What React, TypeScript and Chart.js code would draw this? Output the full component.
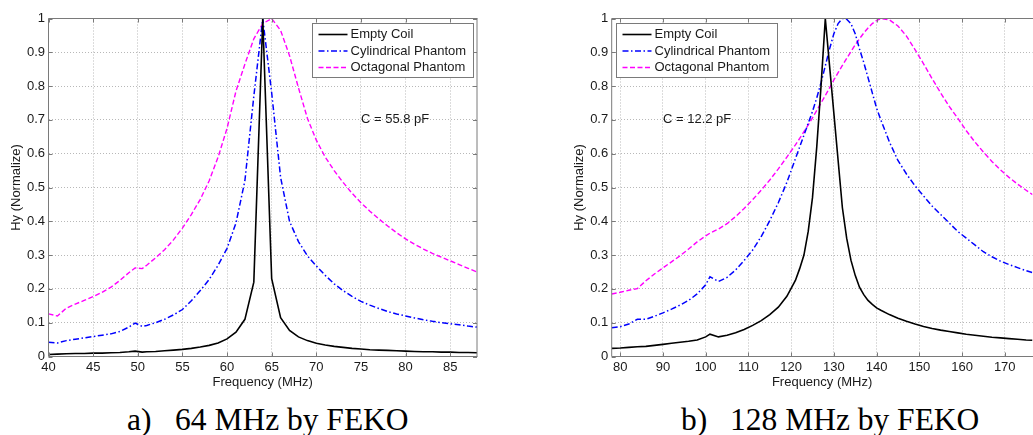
import React, { useEffect, useRef } from "react";
import { Chart, registerables } from "chart.js";

Chart.register(...registerables);

// ---------- Data: (a) 64 MHz ----------
const freqA = [40, 41, 42, 43, 44, 45, 46, 47, 48, 49, 49.7, 50.5, 51, 52, 53, 54, 55, 56, 57, 58, 59, 60, 61, 62, 63, 64, 65, 66, 67, 68, 69, 70, 71, 72, 73, 74, 75, 76, 77, 78, 79, 80, 81, 82, 83, 84, 85, 86, 87, 88];
const emptyCoilA = [0.006, 0.007, 0.008, 0.009, 0.009, 0.010, 0.010, 0.011, 0.012, 0.014, 0.016, 0.013, 0.014, 0.015, 0.017, 0.019, 0.021, 0.024, 0.028, 0.033, 0.040, 0.052, 0.072, 0.11, 0.22, 1.0, 0.23, 0.115, 0.077, 0.058, 0.047, 0.039, 0.034, 0.030, 0.027, 0.024, 0.022, 0.020, 0.019, 0.018, 0.017, 0.016, 0.015, 0.014, 0.014, 0.013, 0.013, 0.012, 0.012, 0.011];
const cylindricalA = [0.042, 0.040, 0.047, 0.051, 0.055, 0.059, 0.063, 0.067, 0.074, 0.087, 0.099, 0.089, 0.092, 0.100, 0.110, 0.123, 0.139, 0.165, 0.195, 0.228, 0.27, 0.32, 0.395, 0.52, 0.77, 1.0, 0.78, 0.53, 0.40, 0.34, 0.298, 0.268, 0.24, 0.215, 0.195, 0.178, 0.163, 0.152, 0.142, 0.133, 0.126, 0.120, 0.114, 0.109, 0.104, 0.100, 0.097, 0.094, 0.090, 0.087];
const octagonalA = [0.126, 0.12, 0.143, 0.155, 0.166, 0.177, 0.19, 0.205, 0.225, 0.248, 0.262, 0.26, 0.27, 0.292, 0.316, 0.345, 0.38, 0.42, 0.465, 0.52, 0.59, 0.675, 0.785, 0.865, 0.94, 0.985, 1.0, 0.965, 0.89, 0.795, 0.705, 0.64, 0.59, 0.55, 0.515, 0.483, 0.455, 0.43, 0.407, 0.386, 0.366, 0.348, 0.332, 0.318, 0.305, 0.294, 0.283, 0.272, 0.261, 0.25];

// ---------- Data: (b) 128 MHz ----------
const freqB = [78, 80, 82, 84, 86, 88, 90, 92, 94, 96, 98, 100, 101, 103, 105, 107, 109, 111, 113, 115, 117, 119, 121, 122, 123, 124, 125, 126, 127, 128, 129, 130, 131, 132, 133, 134, 135, 136, 137, 138, 139, 140, 141, 143, 145, 147, 149, 151, 153, 155, 157, 159, 161, 163, 165, 167, 169, 171, 173, 175, 176.5];
const emptyCoilB = [0.024, 0.025, 0.027, 0.029, 0.030, 0.033, 0.036, 0.039, 0.042, 0.045, 0.049, 0.058, 0.066, 0.058, 0.063, 0.070, 0.080, 0.092, 0.106, 0.124, 0.146, 0.178, 0.225, 0.26, 0.30, 0.37, 0.47, 0.62, 0.80, 1.0, 0.86, 0.72, 0.58, 0.44, 0.35, 0.285, 0.24, 0.205, 0.183, 0.166, 0.154, 0.144, 0.137, 0.124, 0.113, 0.104, 0.096, 0.089, 0.083, 0.078, 0.074, 0.070, 0.066, 0.063, 0.060, 0.057, 0.055, 0.053, 0.051, 0.049, 0.048];
const cylindricalB = [0.085, 0.088, 0.096, 0.110, 0.110, 0.119, 0.129, 0.140, 0.152, 0.166, 0.185, 0.212, 0.236, 0.222, 0.234, 0.256, 0.284, 0.315, 0.355, 0.402, 0.455, 0.515, 0.585, 0.62, 0.655, 0.69, 0.725, 0.765, 0.81, 0.86, 0.91, 0.955, 0.985, 1.0, 0.998, 0.985, 0.955, 0.91, 0.87, 0.825, 0.78, 0.735, 0.70, 0.635, 0.58, 0.54, 0.505, 0.475, 0.445, 0.42, 0.395, 0.37, 0.35, 0.33, 0.31, 0.295, 0.282, 0.272, 0.263, 0.254, 0.248];
const octagonalB = [0.185, 0.19, 0.196, 0.201, 0.224, 0.244, 0.262, 0.28, 0.298, 0.318, 0.339, 0.357, 0.365, 0.377, 0.393, 0.414, 0.438, 0.464, 0.492, 0.522, 0.555, 0.59, 0.626, 0.645, 0.665, 0.685, 0.706, 0.728, 0.75, 0.772, 0.795, 0.818, 0.84, 0.861, 0.882, 0.902, 0.922, 0.94, 0.957, 0.972, 0.985, 0.994, 1.0, 0.996, 0.978, 0.948, 0.908, 0.866, 0.822, 0.78, 0.74, 0.705, 0.668, 0.635, 0.605, 0.577, 0.552, 0.53, 0.51, 0.492, 0.479];

// ---------- Labels / ticks ----------
const seriesNames = ["Empty Coil", "Cylindrical Phantom", "Octagonal Phantom"];
const xTicksA = [40, 45, 50, 55, 60, 65, 70, 75, 80, 85];
const xTicksB = [80, 90, 100, 110, 120, 130, 140, 150, 160, 170];
const yTicks = [0, 0.1, 0.2, 0.3, 0.4, 0.5, 0.6, 0.7, 0.8, 0.9, 1];
const yTickLabels = ["0", "0.1", "0.2", "0.3", "0.4", "0.5", "0.6", "0.7", "0.8", "0.9", "1"];
const xTitle = "Frequency (MHz)";
const yTitle = "Hy (Normalize)";
const noteA = "C = 55.8 pF";
const noteB = "C = 12.2 pF";

const SANS = '"Liberation Sans", Arial, sans-serif';
const TEXT = "#1a1a1a";
const FRAME = "#7a7a7a";
const styles = [
  { color: "#000000", dash: [] as number[], width: 1.6 },
  { color: "#0000ff", dash: [6, 2.5, 1.5, 2.5], width: 1.5 },
  { color: "#ff00ff", dash: [5, 2.5], width: 1.4 },
];

type Props = {
  freq: number[];
  series: number[][];
  xMin: number;
  xMax: number;
  xTicks: number[];
  note: string;
  noteX: number;
  noteY: number;
  legendRight: boolean;
  padLeft: number;
  padRight: number;
  width: number;
  drawRightFrame: boolean;
};

const decorPlugin = {
  id: "decor",
  afterDraw(chart: any, _args: any, opts: any) {
    const { ctx, chartArea: a, scales } = chart;
    const xs = scales.x;
    const ys = scales.y;
    ctx.save();
    ctx.strokeStyle = FRAME;
    ctx.lineWidth = 1;
    ctx.setLineDash([]);
    // frame
    ctx.beginPath();
    ctx.moveTo(a.left, a.bottom);
    ctx.lineTo(a.left, a.top);
    ctx.lineTo(a.right + 0.5, a.top);
    if (opts.drawRightFrame) {
      ctx.moveTo(a.right, a.top);
      ctx.lineTo(a.right, a.bottom);
    }
    ctx.moveTo(a.left, a.bottom);
    ctx.lineTo(a.right + 0.5, a.bottom);
    ctx.stroke();
    // inward ticks
    ctx.beginPath();
    for (const v of opts.xTicks) {
      const px = Math.round(xs.getPixelForValue(v)) + 0.5;
      ctx.moveTo(px, a.bottom);
      ctx.lineTo(px, a.bottom - 4);
      ctx.moveTo(px, a.top);
      ctx.lineTo(px, a.top + 4);
    }
    for (const v of yTicks) {
      const py = Math.round(ys.getPixelForValue(v)) + 0.5;
      ctx.moveTo(a.left, py);
      ctx.lineTo(a.left + 4, py);
      if (opts.drawRightFrame) {
        ctx.moveTo(a.right, py);
        ctx.lineTo(a.right - 4, py);
      }
    }
    ctx.stroke();

    // annotation
    ctx.fillStyle = TEXT;
    ctx.font = `13px ${SANS}`;
    ctx.textAlign = "left";
    ctx.textBaseline = "middle";
    ctx.fillText(opts.note, xs.getPixelForValue(opts.noteX), ys.getPixelForValue(opts.noteY));

    // legend
    const bw = 161;
    const bh = 54;
    const bx = Math.round(opts.legendRight ? a.right - 4 - bw : a.left + 4) + 0.5;
    const by = Math.round(a.top + 4) + 0.5;
    ctx.fillStyle = "#ffffff";
    ctx.fillRect(bx, by, bw, bh);
    ctx.strokeStyle = FRAME;
    ctx.lineWidth = 1;
    ctx.strokeRect(bx, by, bw, bh);
    for (let i = 0; i < seriesNames.length; i++) {
      const yy = by + 11 + i * 16.5;
      ctx.beginPath();
      ctx.strokeStyle = styles[i].color;
      ctx.lineWidth = styles[i].width;
      ctx.setLineDash(styles[i].dash);
      ctx.moveTo(bx + 6, yy);
      ctx.lineTo(bx + 35, yy);
      ctx.stroke();
      ctx.setLineDash([]);
      ctx.fillStyle = TEXT;
      ctx.fillText(seriesNames[i], bx + 38, yy);
    }
    ctx.restore();
  },
};

function FekoChart(p: Props) {
  const ref = useRef<HTMLCanvasElement | null>(null);
  useEffect(() => {
    if (!ref.current) return;
    const chart = new Chart(ref.current, {
      type: "line",
      data: {
        datasets: p.series.map((vals, i) => ({
          label: seriesNames[i],
          data: p.freq.map((f, j) => ({ x: f, y: vals[j] })),
          borderColor: styles[i].color,
          borderWidth: styles[i].width,
          borderDash: styles[i].dash,
          pointRadius: 0,
          tension: 0,
          fill: false,
        })),
      },
      options: {
        responsive: false,
        animation: false,
        devicePixelRatio: 1,
        events: [],
        layout: { padding: { left: p.padLeft, right: p.padRight, top: 18.5, bottom: 0 } },
        plugins: {
          legend: { display: false },
          tooltip: { enabled: false },
          decor: {
            xTicks: p.xTicks,
            note: p.note,
            noteX: p.noteX,
            noteY: p.noteY,
            legendRight: p.legendRight,
            drawRightFrame: p.drawRightFrame,
          },
        } as any,
        scales: {
          x: {
            type: "linear",
            min: p.xMin,
            max: p.xMax,
            afterBuildTicks: (s: any) => {
              s.ticks = p.xTicks.map((v) => ({ value: v }));
            },
            afterFit: (s: any) => {
              s.height = 43.5;
            },
            grid: { color: "#b8b8b8", lineWidth: 1, drawTicks: false },
            border: { display: false, dash: [1, 2] },
            ticks: {
              autoSkip: false,
              maxRotation: 0,
              padding: 3,
              color: TEXT,
              font: { family: SANS, size: 13 },
              callback: (v: any) => String(v),
            },
            title: {
              display: true,
              text: xTitle,
              color: TEXT,
              font: { family: SANS, size: 13 },
              padding: { top: 0, bottom: 10.2 },
            },
          },
          y: {
            type: "linear",
            min: 0,
            max: 1,
            afterBuildTicks: (s: any) => {
              s.ticks = yTicks.map((v) => ({ value: v }));
            },
            afterFit: (s: any) => {
              s.width = 48.5;
            },
            grid: { color: "#b8b8b8", lineWidth: 1, drawTicks: false },
            border: { display: false, dash: [1, 2] },
            ticks: {
              autoSkip: false,
              padding: 3.5,
              color: TEXT,
              font: { family: SANS, size: 13 },
              callback: (_v: any, i: number) => yTickLabels[i],
            },
            title: {
              display: true,
              text: yTitle,
              color: TEXT,
              font: { family: SANS, size: 13 },
              padding: { top: 8.9, bottom: 0 },
            },
          },
        },
      },
      plugins: [decorPlugin],
    } as any);
    return () => chart.destroy();
  }, []);
  return (
    <canvas
      ref={ref}
      width={p.width}
      height={400}
      style={{ display: "block", width: p.width, height: 400 }}
    />
  );
}

const captionStyle: React.CSSProperties = {
  position: "absolute",
  top: 403.5,
  font: '31.5px "Liberation Serif", "Times New Roman", serif',
  lineHeight: "32px",
  whiteSpace: "nowrap",
  color: "#000",
};

export default function App() {
  return (
    <div
      style={{
        position: "absolute",
        left: 0,
        top: 0,
        width: 1033,
        height: 435,
        overflow: "hidden",
        background: "#fff",
      }}
    >
      <div style={{ position: "absolute", left: 0, top: 0 }}>
        <FekoChart
          freq={freqA}
          series={[emptyCoilA, cylindricalA, octagonalA]}
          xMin={40}
          xMax={88}
          xTicks={xTicksA}
          note={noteA}
          noteX={75}
          noteY={0.7}
          legendRight={true}
          padLeft={0}
          padRight={38}
          width={515}
          drawRightFrame={true}
        />
      </div>
      <div style={{ position: "absolute", left: 515, top: 0 }}>
        <FekoChart
          freq={freqB}
          series={[emptyCoilB, cylindricalB, octagonalB]}
          xMin={78}
          xMax={176.5}
          xTicks={xTicksB}
          note={noteB}
          noteX={90}
          noteY={0.7}
          legendRight={false}
          padLeft={48.2}
          padRight={0.5}
          width={518}
          drawRightFrame={false}
        />
      </div>
      <div style={{ ...captionStyle, left: 127 }}>a)</div>
      <div style={{ ...captionStyle, left: 175 }}>64 MHz by FEKO</div>
      <div style={{ ...captionStyle, left: 681 }}>b)</div>
      <div style={{ ...captionStyle, left: 730 }}>128 MHz by FEKO</div>
    </div>
  );
}
